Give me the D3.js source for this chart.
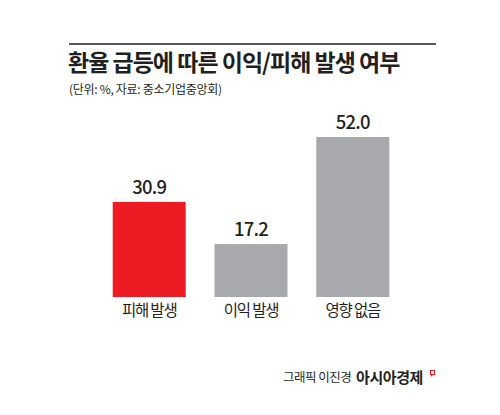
<!DOCTYPE html>
<html>
<head>
<meta charset="utf-8">
<script src="https://cdn.jsdelivr.net/npm/d3@7"></script>
<style>
  body { margin: 0; background: #fff; }
  text { font-family: "Noto Sans CJK KR", "Noto Sans", sans-serif; fill: #231f20; }
</style>
</head>
<body>
<svg id="chart"></svg>
<script>
var categories = ["피해 발생", "이익 발생", "영향 없음"];
var values = [30.9, 17.2, 52.0];
var barColors = ["#ed1c24", "#a7a9ac", "#a7a9ac"];

var titleText = "환율 급등에 따른 이익/피해 발생 여부";
var subtitleText = "(단위: %, 자료: 중소기업중앙회)";

var width = 500, height = 415;

var svg = d3.select("#chart")
  .attr("width", width)
  .attr("height", height);

// header rule + titles
svg.append("line")
  .attr("x1", 69).attr("x2", 436)
  .attr("y1", 44).attr("y2", 44)
  .attr("stroke", "#231f20")
  .attr("stroke-width", 1.5);

svg.append("text")
  .attr("x", 68).attr("y", 71)
  .style("font-size", "23px")
  .style("font-weight", 700)
  .style("letter-spacing", "-1px")
  .text(titleText);

svg.append("text")
  .attr("x", 69).attr("y", 94)
  .style("font-size", "12px")
  .style("letter-spacing", "-0.3px")
  .text(subtitleText);

// scales
var x = d3.scaleBand()
  .domain(categories)
  .range([98.3, 403.7])
  .paddingInner(0.283)
  .paddingOuter(0.1415);

var y = d3.scaleLinear()
  .domain([0, 52])
  .range([297, 137]);

var data = categories.map((c, i) => ({ label: c, value: values[i], color: barColors[i] }));

svg.selectAll(".bar")
  .data(data)
  .enter()
  .append("rect")
  .attr("class", "bar")
  .attr("x", d => x(d.label))
  .attr("width", x.bandwidth())
  .attr("y", d => y(d.value))
  .attr("height", d => y(0) - y(d.value))
  .attr("fill", d => d.color);

// value labels
svg.selectAll(".val")
  .data(data)
  .enter()
  .append("text")
  .attr("class", "val")
  .attr("x", d => x(d.label) + x.bandwidth() / 2)
  .attr("y", d => y(d.value) - 8)
  .attr("text-anchor", "middle")
  .style("font-size", "18.5px")
  .style("font-weight", 500)
  .style("letter-spacing", "-0.8px")
  .text(d => d.value.toFixed(1));

// category labels (no axis line in the original)
svg.selectAll(".cat")
  .data(data)
  .enter()
  .append("text")
  .attr("class", "cat")
  .attr("x", d => x(d.label) + x.bandwidth() / 2)
  .attr("y", 316)
  .attr("text-anchor", "middle")
  .style("font-size", "15.5px")
  .style("letter-spacing", "-1.2px")
  .text(d => d.label);

// footer credit
svg.append("text")
  .attr("x", 283).attr("y", 382)
  .style("font-size", "12.5px")
  .style("letter-spacing", "-0.5px")
  .text("그래픽 이진경");

svg.append("text")
  .attr("x", 356).attr("y", 382.5)
  .style("font-size", "15px")
  .style("font-weight", 700)
  .style("letter-spacing", "-0.4px")
  .text("아시아경제");

// little red logo mark
svg.append("path")
  .attr("d", "M430.5,370.5 h4 v4 h-2 l-1,1 v-1 h-1 z")
  .attr("fill", "none")
  .attr("stroke", "#ed1c24")
  .attr("stroke-width", 1.2);
</script>
</body>
</html>
